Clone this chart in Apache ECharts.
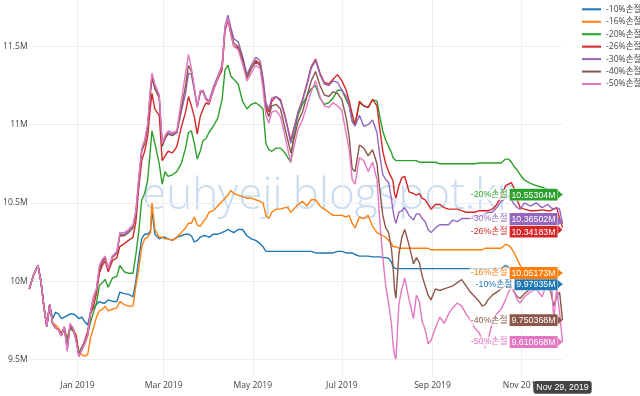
<!DOCTYPE html>
<html><head><meta charset="utf-8">
<script src="https://cdn.jsdelivr.net/npm/echarts@6/dist/echarts.min.js"></script>
<style>html,body{margin:0;padding:0;background:#fff}#c{width:640px;height:396px}</style>
</head><body><div id="c"></div>
<script>
const dates = [
'2018-11-29','2018-12-02','2018-12-05','2018-12-07','2018-12-09','2018-12-11','2018-12-13','2018-12-15','2018-12-17','2018-12-19',
'2018-12-21','2018-12-23','2018-12-25','2018-12-27','2018-12-29','2018-12-31','2019-01-02','2019-01-04','2019-01-06','2019-01-08',
'2019-01-10','2019-01-12','2019-01-14','2019-01-16','2019-01-18','2019-01-20','2019-01-22','2019-01-25','2019-01-28','2019-01-30',
'2019-02-02','2019-02-05','2019-02-08','2019-02-10','2019-02-12','2019-02-14','2019-02-16','2019-02-18','2019-02-20','2019-02-21',
'2019-02-23','2019-02-26','2019-02-28','2019-03-02','2019-03-04','2019-03-07','2019-03-10','2019-03-13','2019-03-16','2019-03-18',
'2019-03-20','2019-03-22','2019-03-24','2019-03-26','2019-03-28','2019-03-30','2019-04-01','2019-04-04','2019-04-07','2019-04-10',
'2019-04-12','2019-04-14','2019-04-16','2019-04-18','2019-04-21','2019-04-24','2019-04-27','2019-04-30','2019-05-03','2019-05-06',
'2019-05-08','2019-05-10','2019-05-12','2019-05-14','2019-05-17','2019-05-20','2019-05-23','2019-05-25','2019-05-27','2019-05-29',
'2019-06-01','2019-06-04','2019-06-07','2019-06-10','2019-06-13','2019-06-16','2019-06-19','2019-06-22','2019-06-25','2019-06-28',
'2019-07-01','2019-07-04','2019-07-06','2019-07-08','2019-07-10','2019-07-13','2019-07-16','2019-07-19','2019-07-22','2019-07-25',
'2019-07-27','2019-07-29','2019-07-31','2019-08-02','2019-08-04','2019-08-05','2019-08-06','2019-08-07','2019-08-09','2019-08-11',
'2019-08-13','2019-08-16','2019-08-19','2019-08-21','2019-08-23','2019-08-25','2019-08-27','2019-08-29','2019-08-31','2019-09-03',
'2019-09-06','2019-09-09','2019-09-12','2019-09-15','2019-09-18','2019-09-21','2019-09-24','2019-09-27','2019-09-30','2019-10-03',
'2019-10-05','2019-10-07','2019-10-09','2019-10-12','2019-10-15','2019-10-18','2019-10-21','2019-10-23','2019-10-25','2019-10-27',
'2019-10-29','2019-10-31','2019-11-03','2019-11-07','2019-11-11','2019-11-15','2019-11-19','2019-11-21','2019-11-23','2019-11-25',
'2019-11-27','2019-11-29'];

// values in millions (M)
const loss10 = [
9.95,10.04,10.10,10.00,9.84,9.71,9.85,9.76,9.80,9.79,
9.76,9.77,9.78,9.79,9.79,9.78,9.76,9.77,9.74,9.72,
9.80,9.83,9.85,9.87,9.86,9.86,9.88,9.87,9.87,9.93,
9.92,9.915,9.90,10.00,10.15,10.27,10.30,10.30,10.32,10.45,
10.30,10.27,10.28,10.28,10.27,10.26,10.28,10.29,10.30,10.30,
10.29,10.25,10.26,10.28,10.29,10.29,10.28,10.30,10.30,10.31,
10.32,10.33,10.32,10.31,10.33,10.33,10.29,10.27,10.26,10.24,
10.22,10.19,10.19,10.19,10.19,10.19,10.19,10.19,10.19,10.19,
10.19,10.19,10.19,10.19,10.18,10.18,10.18,10.18,10.18,10.19,
10.19,10.18,10.18,10.18,10.17,10.16,10.16,10.16,10.155,10.155,
10.155,10.15,10.15,10.145,10.12,10.09,10.085,10.08,10.08,10.08,
10.08,10.08,10.08,10.08,10.08,10.08,10.08,10.08,10.08,10.08,
10.08,10.08,10.08,10.08,10.08,10.08,10.08,10.08,10.08,10.08,
10.08,10.08,10.08,10.08,10.08,10.08,10.10,10.09,10.05,10.02,
10.00,9.99,9.98,9.98,9.98,9.98,9.98,9.98,9.98,9.98,
9.98,9.97935];
const loss16 = [
9.95,10.04,10.10,10.00,9.84,9.71,9.85,9.73,9.72,9.70,
9.67,9.70,9.63,9.71,9.69,9.66,9.55,9.53,9.52,9.53,
9.64,9.70,9.77,9.81,9.82,9.84,9.81,9.82,9.83,9.87,
9.85,9.84,9.84,9.97,10.08,10.22,10.27,10.28,10.31,10.50,
10.33,10.28,10.28,10.27,10.27,10.26,10.28,10.31,10.34,10.37,
10.37,10.41,10.36,10.35,10.38,10.40,10.44,10.45,10.48,10.51,
10.53,10.55,10.58,10.56,10.55,10.54,10.53,10.53,10.52,10.51,
10.50,10.42,10.40,10.44,10.46,10.46,10.47,10.47,10.44,10.46,
10.49,10.51,10.48,10.52,10.52,10.48,10.46,10.44,10.42,10.42,
10.42,10.41,10.42,10.37,10.34,10.41,10.40,10.42,10.35,10.31,
10.30,10.29,10.28,10.26,10.24,10.22,10.22,10.22,10.21,10.21,
10.21,10.21,10.21,10.21,10.21,10.21,10.21,10.21,10.20,10.20,
10.20,10.20,10.20,10.20,10.20,10.20,10.20,10.20,10.20,10.20,
10.20,10.21,10.21,10.21,10.21,10.21,10.235,10.23,10.21,10.18,
10.14,10.10,10.06,10.055,10.055,10.055,10.052,10.052,10.052,10.052,
10.052,10.05173];
const loss20 = [
9.95,10.04,10.10,10.00,9.84,9.71,9.85,9.73,9.70,9.69,
9.66,9.69,9.63,9.70,9.68,9.64,9.54,9.58,9.61,9.66,
9.74,9.80,9.86,9.97,9.99,10.01,9.96,10.02,10.03,10.10,
10.06,10.05,10.05,10.17,10.32,10.52,10.56,10.64,10.85,10.96,
10.88,10.75,10.62,10.70,10.67,10.68,10.70,10.75,10.85,10.95,
10.96,10.88,10.78,10.83,10.90,10.91,10.95,10.99,11.04,11.16,
11.35,11.38,11.31,11.29,11.26,11.15,11.10,11.13,11.14,11.12,
11.10,10.88,10.84,10.83,10.85,10.85,10.82,10.79,10.76,10.93,
11.06,11.13,11.18,11.23,11.25,11.17,11.13,11.14,11.17,11.22,
11.22,11.16,11.12,11.03,11.00,11.14,11.12,11.11,11.16,11.15,
11.05,10.96,10.90,10.86,10.82,10.79,10.78,10.77,10.77,10.77,
10.77,10.77,10.77,10.77,10.76,10.76,10.76,10.76,10.76,10.76,
10.75,10.75,10.75,10.75,10.75,10.75,10.75,10.75,10.75,10.755,
10.755,10.755,10.755,10.755,10.755,10.755,10.78,10.78,10.76,10.73,
10.71,10.68,10.645,10.625,10.61,10.60,10.585,10.575,10.565,10.56,
10.555,10.55304];
const loss26 = [
9.95,10.04,10.10,10.00,9.84,9.71,9.85,9.73,9.70,9.69,
9.66,9.70,9.59,9.71,9.69,9.65,9.53,9.57,9.62,9.68,
9.79,9.84,9.92,10.05,10.10,10.13,10.06,10.13,10.15,10.22,
10.24,10.26,10.28,10.38,10.60,10.77,10.83,10.92,11.12,11.20,
11.10,11.06,10.77,10.80,10.83,10.82,10.86,10.98,11.08,11.18,
11.12,11.05,10.94,11.05,11.10,11.14,11.13,11.22,11.29,11.35,
11.60,11.67,11.58,11.50,11.49,11.41,11.30,11.36,11.41,11.39,
11.28,11.12,11.08,11.15,11.18,11.16,11.06,10.98,10.90,10.97,
11.08,11.16,11.26,11.37,11.42,11.33,11.27,11.26,11.29,11.32,
11.28,11.22,11.15,11.07,11.00,11.15,11.12,11.11,11.16,11.12,
10.97,10.83,10.75,10.70,10.66,10.64,10.56,10.53,10.61,10.66,
10.67,10.57,10.56,10.55,10.56,10.53,10.52,10.49,10.46,10.49,
10.49,10.47,10.46,10.46,10.46,10.45,10.44,10.44,10.44,10.45,
10.45,10.45,10.45,10.46,10.49,10.54,10.61,10.62,10.63,10.59,
10.52,10.47,10.46,10.45,10.45,10.455,10.45,10.45,10.46,10.47,
10.40,10.34183];
const loss30 = [
9.95,10.04,10.10,10.00,9.84,9.71,9.85,9.73,9.70,9.69,
9.65,9.71,9.56,9.72,9.70,9.63,9.52,9.57,9.61,9.66,
9.80,9.90,9.95,10.08,10.13,10.15,10.08,10.16,10.18,10.30,
10.30,10.32,10.35,10.44,10.65,10.84,10.89,10.99,11.22,11.31,
11.24,11.18,10.87,10.92,10.95,10.94,10.95,11.08,11.20,11.33,
11.32,11.22,11.12,11.20,11.22,11.17,11.15,11.24,11.31,11.38,
11.63,11.70,11.62,11.55,11.53,11.44,11.32,11.38,11.43,11.41,
11.30,11.14,11.10,11.17,11.18,11.15,11.05,10.97,10.88,10.96,
11.08,11.15,11.25,11.36,11.41,11.32,11.26,11.25,11.28,11.27,
11.22,11.18,11.12,11.02,10.99,11.06,10.99,11.00,11.03,10.95,
10.80,10.68,10.65,10.63,10.52,10.45,10.40,10.37,10.44,10.45,
10.47,10.42,10.39,10.43,10.43,10.40,10.38,10.33,10.31,10.34,
10.36,10.36,10.36,10.39,10.38,10.40,10.40,10.40,10.42,10.41,
10.42,10.43,10.44,10.44,10.47,10.51,10.53,10.55,10.52,10.49,
10.47,10.46,10.50,10.48,10.50,10.47,10.49,10.47,10.46,10.47,
10.46,10.36502];
const loss40 = [
9.95,10.04,10.10,10.00,9.84,9.71,9.85,9.73,9.70,9.69,
9.65,9.70,9.57,9.72,9.69,9.63,9.52,9.56,9.60,9.65,
9.80,9.89,9.94,10.07,10.12,10.15,10.08,10.15,10.18,10.29,
10.29,10.31,10.34,10.43,10.64,10.83,10.88,10.98,11.20,11.30,
11.23,11.17,10.86,10.91,10.94,10.93,10.95,11.10,11.25,11.38,
11.34,11.23,11.11,11.21,11.21,11.16,11.14,11.22,11.30,11.37,
11.61,11.68,11.60,11.52,11.50,11.42,11.30,11.36,11.40,11.38,
11.26,11.10,11.05,11.12,11.13,11.10,10.98,10.90,10.82,10.90,
11.02,11.08,11.18,11.28,11.34,11.25,11.19,11.18,11.21,11.20,
11.16,11.04,10.92,10.72,10.70,10.87,10.85,10.80,10.84,10.75,
10.58,10.42,10.34,10.31,10.20,10.10,9.95,9.89,10.17,10.28,
10.33,10.23,10.11,10.15,10.12,10.03,9.97,9.91,9.88,9.95,
9.94,9.95,9.96,9.97,9.99,10.01,9.97,9.93,9.90,9.87,
9.84,9.85,9.88,9.91,9.93,9.95,9.97,9.98,9.96,9.93,
9.90,9.89,9.92,9.95,9.97,9.99,9.98,9.93,9.84,9.90,
9.93,9.750368];
const loss50 = [
9.95,10.04,10.10,10.00,9.84,9.71,9.85,9.73,9.70,9.69,
9.65,9.71,9.55,9.73,9.70,9.62,9.52,9.56,9.60,9.65,
9.81,9.90,9.95,10.10,10.14,10.16,10.08,10.16,10.19,10.31,
10.31,10.33,10.36,10.45,10.66,10.85,10.90,11.00,11.24,11.33,
11.26,11.19,10.88,10.93,10.96,10.95,10.96,11.15,11.33,11.45,
11.36,11.24,11.11,11.22,11.21,11.16,11.14,11.22,11.30,11.37,
11.62,11.68,11.58,11.50,11.48,11.39,11.28,11.33,11.38,11.36,
11.23,11.06,11.01,11.08,11.09,11.05,10.93,10.84,10.76,10.85,
10.97,11.03,11.12,11.21,11.28,11.18,11.12,11.11,11.14,11.12,
11.09,10.94,10.84,10.65,10.62,10.79,10.77,10.70,10.76,10.65,
10.38,10.15,9.97,9.86,9.72,9.60,9.53,9.50,9.85,9.95,
10.02,9.88,9.76,9.91,9.87,9.74,9.69,9.60,9.62,9.70,
9.77,9.73,9.79,9.83,9.86,9.84,9.79,9.75,9.70,9.67,
9.62,9.57,9.62,9.74,9.79,9.82,9.88,9.93,9.96,9.93,
9.88,9.86,9.90,9.93,9.95,9.90,10.00,10.06,9.75,9.95,
9.80,9.610668];

const names = ['-10%손절','-16%손절','-20%손절','-26%손절','-30%손절','-40%손절','-50%손절'];
const colors = ['#1f77b4','#ff7f0e','#2ca02c','#d62728','#9467bd','#8c564b','#e377c2'];
const yTicks = [9.5, 10, 10.5, 11, 11.5];
const xTicks = ['2019-01-01','2019-03-01','2019-05-01','2019-07-01','2019-09-01','2019-11-01'];
const monthNames = ['Jan','Feb','Mar','Apr','May','Jun','Jul','Aug','Sep','Oct','Nov','Dec'];
const labelDy = [0, 0, 0, 4, -5, 0, 0];
const watermark = 'euhyeji.blogspot.kr';

const values = [loss10, loss16, loss20, loss26, loss30, loss40, loss50];
function toTime(s){ const p = s.split('-'); return new Date(+p[0], +p[1]-1, +p[2]).getTime(); }
function fmtVal(v){ return parseFloat(v.toPrecision(7)).toString() + 'M'; }
const times = dates.map(toTime);
const last = dates.length - 1;
const tickFont = '"Open Sans", "Noto Sans CJK KR", sans-serif';
const hoverFont = '"Liberation Sans", Arial, "Noto Sans CJK KR", sans-serif';

const lineSeries = names.map((n, i) => ({
  name: n, type: 'line', symbol: 'none', showSymbol: false, animation: false,
  data: times.map((t, k) => [t, values[i][k]]),
  lineStyle: { width: 1.4, color: colors[i] }, itemStyle: { color: colors[i] },
  emphasis: { disabled: true }, z: 2
}));

const labelSeries = names.map((n, i) => ({
  name: 'end' + i, type: 'scatter', animation: false, silent: true, z: 10,
  data: [[times[last], values[i][last]]],
  symbol: 'path://M0,0L6,5L0,10Z', symbolSize: [5, 9], symbolOffset: [-2.5, labelDy[i] * 0.5],
  itemStyle: { color: colors[i], opacity: 1 },
  label: {
    show: true, position: 'left', distance: 0, offset: [0, labelDy[i] * 0.5],
    formatter: () => '{n|' + n + '}{v|' + fmtVal(values[i][last]) + '}',
    rich: {
      n: { color: colors[i], backgroundColor: 'rgba(255,255,255,0.7)', fontSize: 8.8, fontFamily: hoverFont, padding: [1, 2, 1, 1], lineHeight: 10 },
      v: { color: '#fff', backgroundColor: colors[i], fontSize: 8.8, fontFamily: hoverFont, padding: [2, 2, 1, 2], lineHeight: 9, borderColor: 'rgba(255,255,255,0.55)', borderWidth: 0.6 }
    }
  }
}));

const chart = echarts.init(document.getElementById('c'), null, { renderer: 'canvas' });
chart.setOption({
  animation: false,
  backgroundColor: '#fff',
  grid: { left: 29, right: 77.5, top: 0, bottom: 19, containLabel: false },
  legend: {
    data: names, orient: 'vertical', left: 577, top: -0.7, icon: 'rect',
    itemWidth: 19, itemHeight: 2, itemGap: 2.45, selectedMode: false,
    textStyle: { color: '#444', fontSize: 8.6, fontFamily: tickFont, lineHeight: 10 }
  },
  graphic: [{
    type: 'text', left: 142, top: 174, z: 0, silent: true,
    style: { text: watermark, fill: '#c8ddf2', font: '300 44px "Open Sans"' }
  }],
  xAxis: {
    type: 'value', min: times[0], max: times[last],
    axisLine: { show: false },
    axisTick: { show: false, customValues: xTicks.map(toTime) },
    axisLabel: {
      customValues: xTicks.map(toTime), color: '#444', fontSize: 8.6, fontFamily: tickFont, margin: 4,
      formatter: v => { const d = new Date(v); return monthNames[d.getMonth()] + ' ' + d.getFullYear(); }
    },
    splitLine: { show: true, lineStyle: { color: '#eee', width: 1 } },
    axisPointer: {
      show: true, type: 'line', value: times[last], status: 'show', triggerTooltip: false,
      lineStyle: { opacity: 0 },
      label: {
        show: true, backgroundColor: '#444', color: '#fff', fontSize: 8.8, fontFamily: hoverFont,
        padding: [2, 3, 2, 3], margin: 4,
        formatter: p => { const d = new Date(p.value); return monthNames[d.getMonth()] + ' ' + d.getDate() + ', ' + d.getFullYear(); }
      }
    }
  },
  yAxis: {
    type: 'value', min: 9.387, max: 11.797,
    axisLine: { show: false },
    axisTick: { show: false, customValues: yTicks },
    axisLabel: { customValues: yTicks, color: '#444', fontSize: 8.6, fontFamily: tickFont, margin: 1.5, formatter: v => v + 'M' },
    splitLine: { show: true, lineStyle: { color: '#eee', width: 1 } }
  },
  series: lineSeries.concat(labelSeries)
});
</script>
</body></html>
